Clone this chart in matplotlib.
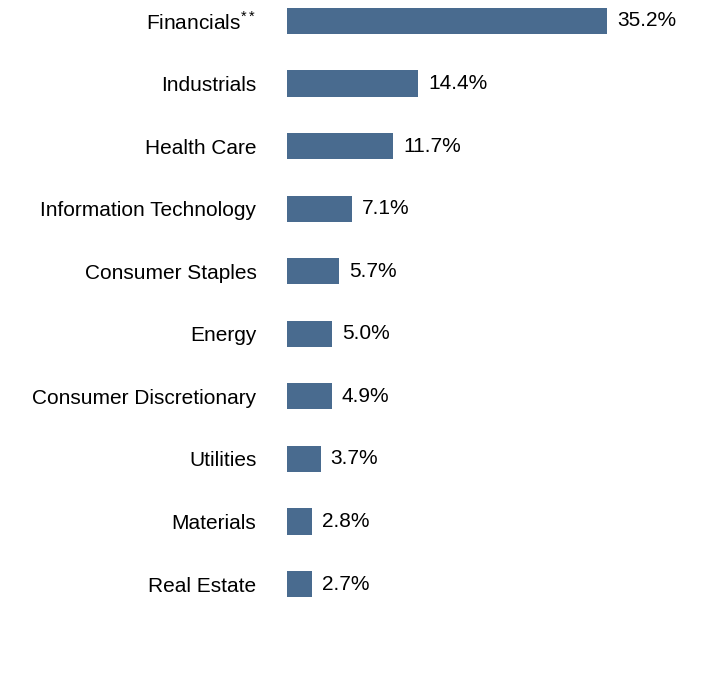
import matplotlib
matplotlib.use("Agg")
import matplotlib.pyplot as plt

categories = ["Financials$^{**}$", "Industrials", "Health Care", "Information Technology",
              "Consumer Staples", "Energy", "Consumer Discretionary", "Utilities",
              "Materials", "Real Estate"]
values = [35.2, 14.4, 11.7, 7.1, 5.7, 5.0, 4.9, 3.7, 2.8, 2.7]
labels = ["35.2%", "14.4%", "11.7%", "7.1%", "5.7%", "5.0%", "4.9%", "3.7%", "2.8%", "2.7%"]

plt.rcParams["font.family"] = "Liberation Sans"
plt.rcParams["mathtext.fontset"] = "custom"
plt.rcParams["mathtext.rm"] = "Liberation Sans"
fig = plt.figure(figsize=(7.2, 6.96), dpi=100)
ax = fig.add_axes([287/720, 0, 433/720, 1])
y = list(range(len(values)))
ax.barh(y, values, height=0.42, color="#496b8f")
ax.set_xlim(0, 433/(320/35.2))
ax.set_ylim(9 + (696-584)/62.56, -21/62.56)
ax.set_yticks(y)
ax.set_yticklabels(categories, fontsize=15)
ax.tick_params(axis="y", length=0, pad=22)
ax.set_xticks([])
for s in ax.spines.values():
    s.set_visible(False)
for yi, v, l in zip(y, values, labels):
    ax.text(v + 1.1, yi, l, va="center", ha="left", fontsize=15)
fig.savefig("out.png", dpi=100)
